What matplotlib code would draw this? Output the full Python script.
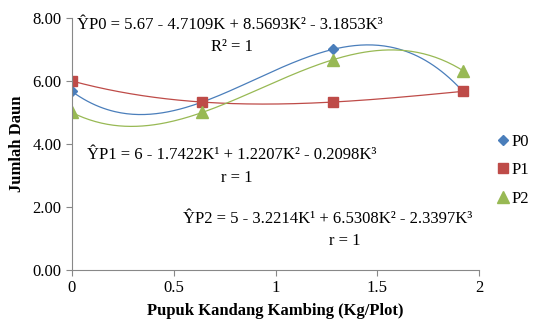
import numpy as np
import matplotlib.pyplot as plt

plt.rcParams['font.family'] = ['Liberation Serif', 'DejaVu Serif']

# data
dosis = [0, 0.64, 1.28, 1.92]
p0 = [5.67, 5.33, 7.00, 5.67]
p1 = [6.00, 5.33, 5.33, 5.67]
p2 = [5.00, 5.00, 6.67, 6.33]

series = [('P0', p0, '#4A7EBB', 'D', 5.5),
          ('P1', p1, '#BE4B48', 's', 7.5),
          ('P2', p2, '#98B954', '^', 8)]

fig = plt.figure(figsize=(5.36, 3.21), dpi=100)
ax = fig.add_axes([0.134, 0.159, 0.76, 0.785])

xs = np.linspace(0, 1.92, 200)
for name, y, c, m, ms in series:
    # cubic trendline through the 4 points
    coef = np.polyfit(dosis, y, 3)
    ax.plot(xs, np.polyval(coef, xs), color=c, lw=0.9)
    ax.plot(dosis, y, linestyle='none', marker=m, color=c, ms=ms, label=name)

ax.set_xlim(0, 2)
ax.set_ylim(0, 8)
ax.set_xticks([0, 0.5, 1, 1.5, 2])
ax.set_xticklabels(['0', '0.5', '1', '1.5', '2'])
ax.set_yticks([0, 2, 4, 6, 8])
ax.set_yticklabels(['0.00', '2.00', '4.00', '6.00', '8.00'])
for s in ['top', 'right']:
    ax.spines[s].set_visible(False)
for s in ['left', 'bottom']:
    ax.spines[s].set_color('#888888')
ax.tick_params(colors='#888888', labelcolor='black', labelsize=12, length=4)
ax.set_xlabel('Pupuk Kandang Kambing (Kg/Plot)', fontsize=12, fontweight='bold', labelpad=5)
ax.set_ylabel('Jumlah Daun', fontsize=12, fontweight='bold', labelpad=5)

fs = 12
fig.text(77/536, 1-25/321, 'ŶP0 = 5.67 - 4.7109K + 8.5693K² - 3.1853K³', fontsize=fs, va='center')
fig.text(232/536, 1-47/321, 'R² = 1', fontsize=fs, va='center', ha='center')
fig.text(87/536, 1-155/321, 'ŶP1 = 6 - 1.7422K¹ + 1.2207K² - 0.2098K³', fontsize=fs, va='center')
fig.text(237/536, 1-178/321, 'r = 1', fontsize=fs, va='center', ha='center')
fig.text(183/536, 1-219/321, 'ŶP2 = 5 - 3.2214K¹ + 6.5308K² - 2.3397K³', fontsize=fs, va='center')
fig.text(345/536, 1-241/321, 'r = 1', fontsize=fs, va='center', ha='center')

fig.legend(loc='center left', bbox_to_anchor=(0.93, 0.47), frameon=False,
           fontsize=12, handlelength=0.6, handletextpad=0.2, labelspacing=0.75,
           borderpad=0, borderaxespad=0)

fig.savefig('out.png', dpi=100)
